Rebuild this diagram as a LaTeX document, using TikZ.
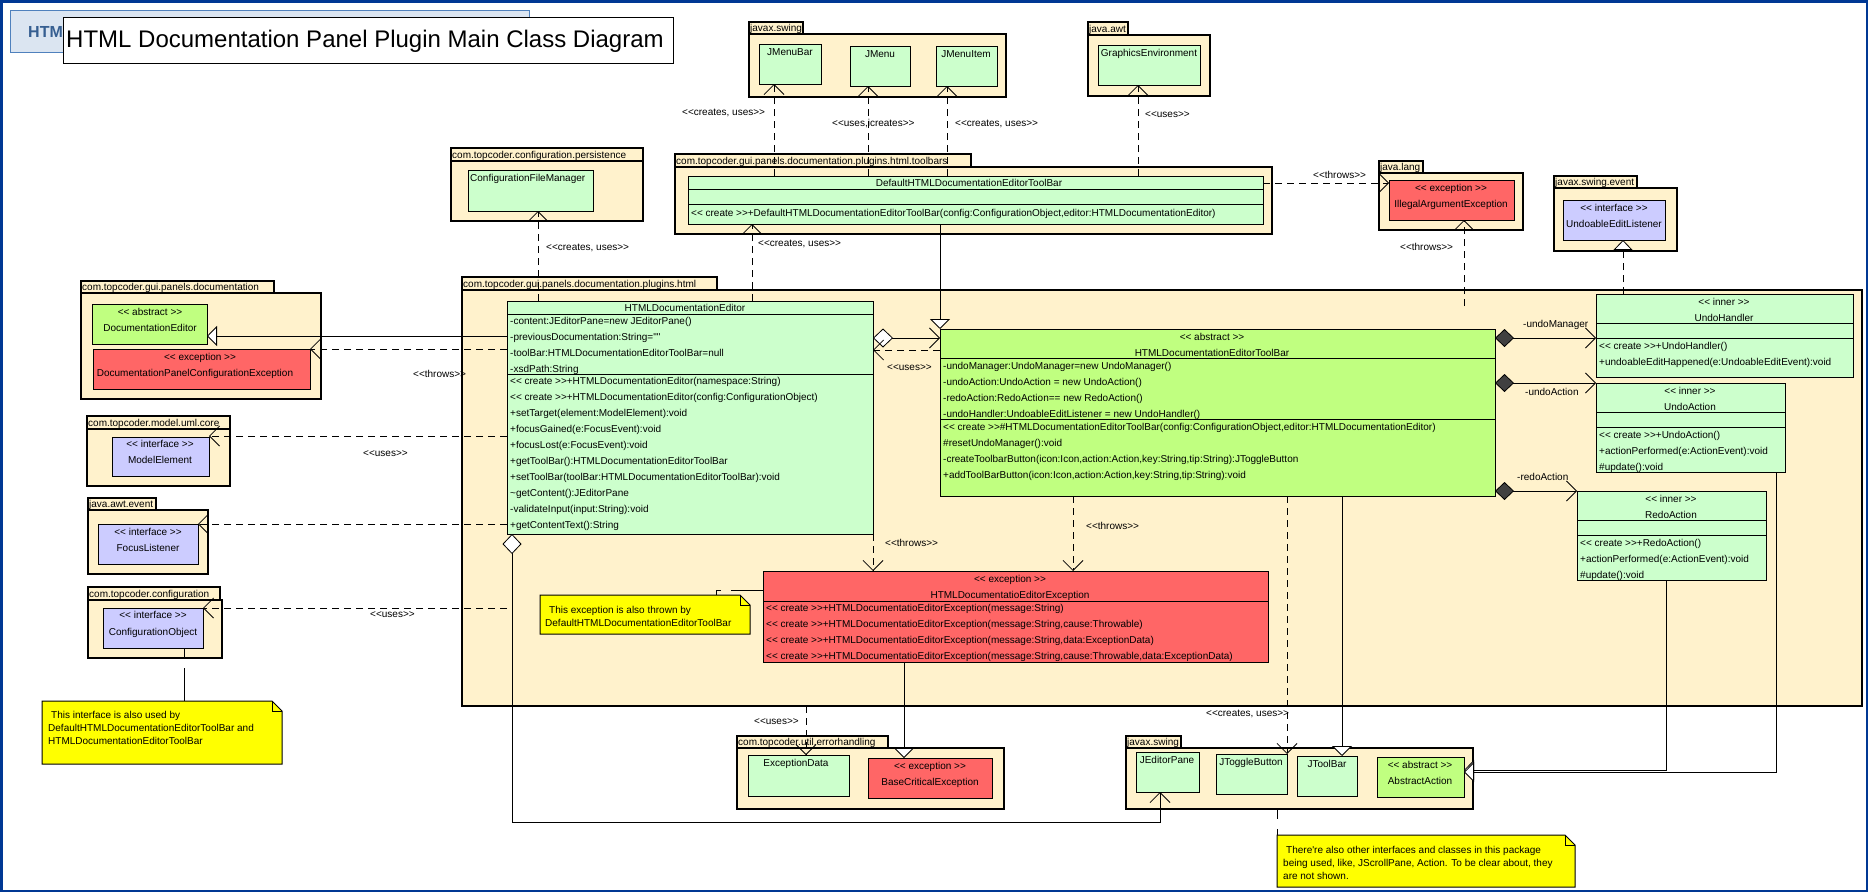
\documentclass[tikz,border=0pt]{standalone}
\usepackage{fontspec}
\setmainfont{Liberation Sans}[Ligatures=TeXOff]
\usetikzlibrary{arrows.meta,calc}

\newcommand{\rowfont}{\fontsize{10}{12}\selectfont}

\tikzset{
  pkgtab/.style={draw=black, fill=pkgfill, line width=1.2pt},
  pkgbody/.style={pkgtab, inner sep=0pt, outer sep=0pt},
  clsbox/.style={draw=black, line width=1pt, inner sep=0pt, outer sep=0pt},
  clsgreen/.style={clsbox, fill=fillgreen},
  clslime/.style={clsbox, fill=filllime},
  clsred/.style={clsbox, fill=fillred},
  clsblue/.style={clsbox, fill=fillblue},
  row/.style={anchor=base west, inner sep=0pt, yshift=-3.5pt, font=\rowfont},
  rowc/.style={anchor=base, inner sep=0pt, yshift=-3.5pt, font=\rowfont},
  clbl/.style={row},
  dep/.style={line width=0.8pt, dash pattern=on 7pt off 5pt, -{Straight Barb[length=10pt,width=20pt]}},
  real/.style={line width=0.8pt, dash pattern=on 7pt off 5pt, -{Triangle[length=10pt,width=19pt,fill=white]}},
  gen/.style={line width=0.8pt, -{Triangle[length=10pt,width=20pt,fill=white]}},
  assoc/.style={line width=0.8pt, {Diamond[length=19pt,width=18pt,fill=diamondgray]}-{Straight Barb[length=10pt,width=20pt]}},
  aggr/.style={line width=0.8pt, {Diamond[length=20pt,width=19pt,fill=white]}-{Straight Barb[length=10pt,width=20pt]}},
  notelink/.style={line width=0.8pt, dash pattern=on 10pt off 10pt on 33pt off 10pt}
}

% class box: name, style, x1, y1, x2, y2
\newcommand{\umlbox}[6]{%
  \node[#2, anchor=north west, minimum width={(#5-#3)*1pt}, minimum height={(#6-#4)*1pt}] (#1) at (#3,#4) {};}
% package: name, x1, tab top, tab right, body top, x2, bottom, label
\newcommand{\pkgbox}[8]{%
  \draw[pkgtab] (#2,#3) rectangle (#4,#5);
  \node[pkgbody, anchor=north west, minimum width={(#6-#2)*1pt}, minimum height={(#7-#5)*1pt}] (#1) at (#2,#5) {};
  \node[row] (#1-lbl) at (#2+1,{(#3+#5)/2}) {#8};}
% compartment line: class, y
\newcommand{\divline}[2]{\draw[line width=1pt] (#1.west |- 0,#2) -- (#1.east |- 0,#2);}
% note: name, x1, y1, x2, y2
\newcommand{\umlnote}[5]{%
  \node[anchor=north west, inner sep=0pt, outer sep=0pt, minimum width={(#4-#2)*1pt}, minimum height={(#5-#3)*1pt}] (#1) at (#2,#3) {};
  \filldraw[fill=noteyellow, draw=black, line width=1pt] (#1.north west) -- ($(#1.north east)+(-10,0)$) -- ($(#1.north east)+(0,10)$) -- (#1.south east) -- (#1.south west) -- cycle;
  \draw[line width=0.8pt] ($(#1.north east)+(-10,0)$) |- ($(#1.north east)+(0,10)$);}

\begin{document}
\begin{tikzpicture}[x=1pt, y=-1pt]
  % Define colors
  \definecolor{pkgfill}{RGB}{255,242,204}
  \definecolor{fillgreen}{RGB}{204,255,204}
  \definecolor{filllime}{RGB}{192,255,128}
  \definecolor{fillred}{RGB}{255,102,102}
  \definecolor{fillblue}{RGB}{204,204,255}
  \definecolor{noteyellow}{RGB}{255,255,0}
  \definecolor{frameblue}{RGB}{0,56,148}
  \definecolor{tabblue}{RGB}{219,229,241}
  \definecolor{tabline}{RGB}{79,129,189}
  \definecolor{tabtext}{RGB}{54,95,145}
  \definecolor{diamondgray}{RGB}{64,64,64}

  \useasboundingbox (0,0) rectangle (1868,892);

  % Draw the title
  \node[anchor=north west, fill=tabblue, draw=tabline, line width=1pt, minimum width=519pt, minimum height=42pt, inner sep=0pt] (tab) at (10,10) {};
  \node[anchor=base west, inner sep=0pt, text=tabtext, font=\fontsize{16}{19}\selectfont\bfseries] (tab-txt) at (28,37) {HTM};
  \node[anchor=north west, fill=white, draw=black, line width=1pt, minimum width=610pt, minimum height=46pt, inner sep=0pt] (title) at (63,17) {};
  \node[anchor=base west, inner sep=0pt, font=\fontsize{24}{28}\selectfont] (title-txt) at (66,47) {HTML Documentation Panel Plugin Main Class Diagram};

  % Draw the packages
  \pkgbox{pkpersist}{451}{148}{643}{161}{643}{221}{com.topcoder.configuration.persistence}
  \pkgbox{pkswing}{749}{22}{803}{34}{1006}{97}{javax.swing}
  \pkgbox{pkawt}{1088}{22}{1128}{35}{1210}{96}{java.awt}
  \pkgbox{pktoolbars}{675}{154}{971}{167}{1272}{234}{com.topcoder.gui.panels.documentation.plugins.html.toolbars}
  \pkgbox{pklang}{1379}{161}{1423}{173}{1523}{230}{java.lang}
  \pkgbox{pkevent}{1554}{176}{1637}{188}{1677}{251}{javax.swing.event}
  \pkgbox{pkdoc}{81}{281}{274}{293}{321}{399}{com.topcoder.gui.panels.documentation}
  \pkgbox{pkuml}{87}{416}{230}{429}{230}{486}{com.topcoder.model.uml.core}
  \pkgbox{pkawtevent}{88}{498}{156}{510}{208}{574}{java.awt.event}
  \pkgbox{pkconfig}{88}{587}{220}{600}{222}{658}{com.topcoder.configuration}
  \pkgbox{html}{462}{277}{717}{290}{1862}{706}{com.topcoder.gui.panels.documentation.plugins.html}
  \pkgbox{pkerr}{737}{736}{888}{748}{1004}{809}{com.topcoder.util.errorhandling}
  \pkgbox{swingb}{1126}{736}{1181}{748}{1473}{809}{javax.swing}

  % Draw the outside classes
  \umlbox{cfm}{clsgreen}{468}{170}{593}{211}
  \node[row] (cfm-name) at (470,178) {ConfigurationFileManager};
  \umlbox{jmb}{clsgreen}{759}{44}{821}{84}
  \node[rowc] (jmb-name) at (790,52) {JMenuBar};
  \umlbox{jm}{clsgreen}{850}{46}{910}{86}
  \node[rowc] (jm-name) at (880,54) {JMenu};
  \umlbox{jmi}{clsgreen}{936}{46}{997}{86}
  \node[rowc] (jmi-name) at (966,54) {JMenuItem};
  \umlbox{ge}{clsgreen}{1098}{45}{1200}{85}
  \node[rowc] (ge-name) at (1149,53) {GraphicsEnvironment};
  \umlbox{iae}{clsred}{1389}{180}{1514}{220}
  \node[rowc] (iae-st) at (1451,188) {<< exception >>};
  \node[rowc] (iae-name) at (1451,204) {IllegalArgumentException};
  \umlbox{uel}{clsblue}{1563}{200}{1665}{240}
  \node[rowc] (uel-st) at (1614,208) {<< interface >>};
  \node[rowc] (uel-name) at (1614,224) {UndoableEditListener};
  \umlbox{dedit}{clslime}{92}{304}{207}{344}
  \node[rowc] (dedit-st) at (150,312) {<< abstract >>};
  \node[rowc] (dedit-name) at (150,328) {DocumentationEditor};
  \umlbox{dpce}{clsred}{93}{349}{310}{389}
  \node[rowc] (dpce-st) at (200,357) {<< exception >>};
  \node[rowc] (dpce-name) at (195,373) {DocumentationPanelConfigurationException};
  \umlbox{me}{clsblue}{112}{437}{209}{476}
  \node[rowc] (me-st) at (160,444) {<< interface >>};
  \node[rowc] (me-name) at (160,460) {ModelElement};
  \umlbox{fl}{clsblue}{98}{524}{198}{564}
  \node[rowc] (fl-st) at (148,532) {<< interface >>};
  \node[rowc] (fl-name) at (148,548) {FocusListener};
  \umlbox{co}{clsblue}{103}{608}{203}{648}
  \node[rowc] (co-st) at (153,615) {<< interface >>};
  \node[rowc] (co-name) at (153,632) {ConfigurationObject};
  \umlbox{ed}{clsgreen}{748}{755}{849}{796}
  \node[rowc] (ed-name) at (796,763) {ExceptionData};
  \umlbox{bce}{clsred}{868}{758}{992}{798}
  \node[rowc] (bce-st) at (930,766) {<< exception >>};
  \node[rowc] (bce-name) at (930,782) {BaseCriticalException};
  \umlbox{jep}{clsgreen}{1136}{752}{1199}{792}
  \node[rowc] (jep-name) at (1167,760) {JEditorPane};
  \umlbox{jtb}{clsgreen}{1216}{754}{1287}{794}
  \node[rowc] (jtb-name) at (1251,762) {JToggleButton};
  \umlbox{jtbar}{clsgreen}{1297}{756}{1357}{796}
  \node[rowc] (jtbar-name) at (1327,764) {JToolBar};
  \umlbox{aa}{clslime}{1377}{757}{1464}{797}
  \node[rowc] (aa-st) at (1420,765) {<< abstract >>};
  \node[rowc] (aa-name) at (1420,781) {AbstractAction};

  % Draw the default toolbar
  \umlbox{dtb}{clsgreen}{688}{176}{1263}{224}
  \divline{dtb}{189}
  \divline{dtb}{204}
  \node[rowc] (dtb-name) at (969,183) {DefaultHTMLDocumentationEditorToolBar};
  \node[row] (dtb-m0) at (691,213) {<< create >>+DefaultHTMLDocumentationEditorToolBar(config:ConfigurationObject,editor:HTMLDocumentationEditor)};

  % Draw the editor
  \umlbox{hde}{clsgreen}{507}{301}{873}{534}
  \divline{hde}{314}
  \divline{hde}{374}
  \node[rowc] (hde-name) at (685,308) {HTMLDocumentationEditor};
  \foreach \t [count=\i from 0] in {{-content:JEditorPane=new JEditorPane()}, {-previousDocumentation:String=""},
      {-toolBar:HTMLDocumentationEditorToolBar=null}, {-xsdPath:String}}
    \node[row] (hde-a\i) at (510,321+16*\i) {\t};
  \foreach \t [count=\i from 0] in {{<< create >>+HTMLDocumentationEditor(namespace:String)},
      {<< create >>+HTMLDocumentationEditor(config:ConfigurationObject)}, {+setTarget(element:ModelElement):void},
      {+focusGained(e:FocusEvent):void}, {+focusLost(e:FocusEvent):void}, {+getToolBar():HTMLDocumentationEditorToolBar},
      {+setToolBar(toolBar:HTMLDocumentationEditorToolBar):void}, {\textasciitilde getContent():JEditorPane},
      {-validateInput(input:String):void}, {+getContentText():String}}
    \node[row] (hde-m\i) at (510,381+16*\i) {\t};

  % Draw the abstract toolbar
  \umlbox{atb}{clslime}{940}{329}{1495}{496}
  \divline{atb}{358}
  \divline{atb}{419}
  \node[rowc] (atb-st) at (1212,337) {<< abstract >>};
  \node[rowc] (atb-name) at (1212,353) {HTMLDocumentationEditorToolBar};
  \foreach \t [count=\i from 0] in {{-undoManager:UndoManager=new UndoManager()}, {-undoAction:UndoAction = new UndoAction()},
      {-redoAction:RedoAction== new RedoAction()}, {-undoHandler:UndoableEditListener = new UndoHandler()}}
    \node[row] (atb-a\i) at (943,366+16*\i) {\t};
  \foreach \t [count=\i from 0] in {{<< create >>\#HTMLDocumentationEditorToolBar(config:ConfigurationObject,editor:HTMLDocumentationEditor)},
      {\#resetUndoManager():void}, {-createToolbarButton(icon:Icon,action:Action,key:String,tip:String):JToggleButton},
      {+addToolBarButton(icon:Icon,action:Action,key:String,tip:String):void}}
    \node[row] (atb-m\i) at (943,427+16*\i) {\t};

  % Draw the inner classes
  \umlbox{uh}{clsgreen}{1596}{294}{1853}{377}
  \divline{uh}{323}
  \divline{uh}{338}
  \node[rowc] (uh-st) at (1724,302) {<< inner >>};
  \node[rowc] (uh-name) at (1724,318) {UndoHandler};
  \node[row] (uh-m0) at (1599,346) {<< create >>+UndoHandler()};
  \node[row] (uh-m1) at (1599,362) {+undoableEditHappened(e:UndoableEditEvent):void};
  \umlbox{ua}{clsgreen}{1596}{383}{1785}{472}
  \divline{ua}{412}
  \divline{ua}{427}
  \node[rowc] (ua-st) at (1690,391) {<< inner >>};
  \node[rowc] (ua-name) at (1690,407) {UndoAction};
  \foreach \t [count=\i from 0] in {{<< create >>+UndoAction()}, {+actionPerformed(e:ActionEvent):void}, {\#update():void}}
    \node[row] (ua-m\i) at (1599,435+16*\i) {\t};
  \umlbox{ra}{clsgreen}{1577}{491}{1766}{580}
  \divline{ra}{520}
  \divline{ra}{535}
  \node[rowc] (ra-st) at (1671,499) {<< inner >>};
  \node[rowc] (ra-name) at (1671,515) {RedoAction};
  \foreach \t [count=\i from 0] in {{<< create >>+RedoAction()}, {+actionPerformed(e:ActionEvent):void}, {\#update():void}}
    \node[row] (ra-m\i) at (1580,543+16*\i) {\t};

  % Draw the exception
  \umlbox{hee}{clsred}{763}{571}{1268}{662}
  \divline{hee}{601}
  \node[rowc] (hee-st) at (1010,579) {<< exception >>};
  \node[rowc] (hee-name) at (1010,595) {HTMLDocumentatioEditorException};
  \foreach \t [count=\i from 0] in {{(message:String)}, {(message:String,cause:Throwable)},
      {(message:String,data:ExceptionData)}, {(message:String,cause:Throwable,data:ExceptionData)}}
    \node[row] (hee-m\i) at (766,608+16*\i) {<< create >>+HTMLDocumentatioEditorException\t};

  % Draw the notes
  \umlnote{note1}{42}{701}{282}{764}
  \node[row] (note1-t0) at (51,715) {This interface is also used by};
  \node[row] (note1-t1) at (48,728) {DefaultHTMLDocumentationEditorToolBar and};
  \node[row] (note1-t2) at (48,741) {HTMLDocumentationEditorToolBar};
  \umlnote{note2}{540}{595}{750}{634}
  \node[row] (note2-t0) at (549,610) {This exception is also thrown by};
  \node[row] (note2-t1) at (545,623) {DefaultHTMLDocumentationEditorToolBar};
  \umlnote{note3}{1277}{835}{1575}{887}
  \node[row] (note3-t0) at (1286,850) {There're also other interfaces and classes in this package};
  \node[row] (note3-t1) at (1283,863) {being used, like, JScrollPane, Action. To be clear about, they};
  \node[row] (note3-t2) at (1283,876) {are not shown.};

  % Draw the connectors of the default toolbar
  \draw[dep] (dtb.north -| 774,0) -- (jmb.south -| 774,0);
  \draw[dep] (dtb.north -| 868,0) -- (jm.south -| 868,0);
  \draw[dep] (dtb.north -| 947,0) -- (jmi.south -| 947,0);
  \draw[dep] (dtb.north -| 1138,0) -- (ge.south -| 1138,0);
  \draw[dep] (dtb.east |- 0,183) -- (iae.west |- 0,183);
  \draw[gen] (dtb.south -| 940,0) -- (atb.north -| 940,0);

  % Draw the connectors of the editor
  \draw[dep] (hde.north -| 538,0) -- (cfm.south -| 538,0);
  \draw[dep] (hde.north -| 752,0) -- (dtb.south -| 752,0);
  \draw[gen] (hde.west |- 0,336) -- (dedit.east |- 0,336);
  \draw[dep] (hde.west |- 0,349) -- (dpce.east |- 0,349);
  \draw[dep] (hde.west |- 0,436) -- (me.east |- 0,436);
  \draw[dep] (hde.west |- 0,524) -- (fl.east |- 0,524);
  \draw[dep] ($(hde.south -| 512,0)+(0,19)$) -- (512,608) -- (co.east |- 0,608);
  \draw[aggr] (hde.east |- 0,338) -- (atb.west |- 0,338);
  \draw[dep] (atb.west |- 0,350) -- (hde.east |- 0,350);
  \draw[dep] (hde.south -| 873,0) -- (hee.north -| 873,0);
  \draw[aggr] (hde.south -| 512,0) -- (512,822) -| (jep.south -| 1160,0);

  % Draw the connectors of the abstract toolbar
  \draw[dep] (atb.south -| 1073,0) -- (hee.north -| 1073,0);
  \draw[dep] (atb.south -| 1287,0) -- (jtb.north -| 1287,0);
  \draw[gen] (atb.south -| 1342,0) -- (jtbar.north -| 1342,0);
  \draw[assoc] (atb.east |- 0,338) -- (uh.west |- 0,338);
  \draw[assoc] (atb.east |- 0,383) -- (ua.west |- 0,383);
  \draw[assoc] (atb.east |- 0,491) -- (ra.west |- 0,491);

  % Draw the remaining connectors
  \draw[real] (uh.north -| 1623,0) -- (uel.south -| 1623,0);
  \coordinate (thr) at (1464,306);
  \draw[dep] (thr) -- (iae.south -| thr);
  \draw[gen] (hee.south -| 904,0) -- (bce.north -| 904,0);
  \draw[dep] (html.south -| 806,0) -- (ed.north -| 806,0);
  \draw[gen] (ra.south -| 1666,0) |- (aa.east |- 0,770);
  \draw[gen] (ua.south -| 1776,0) |- (aa.east |- 0,772);
  \draw[notelink] (co.south -| 184,0) -- (note1.north -| 184,0);
  \draw[notelink] (note2.north -| 716,0) |- (hee.west |- 0,590);
  \draw[notelink] (swingb.south -| 1277,0) -- (note3.north west);

  % Label the connectors
  \node[clbl] (l-jmb) at (682,112) {<<creates, uses>>};
  \node[clbl] (l-jm) at (832,123) {<<uses,icreates>>};
  \node[clbl] (l-jmi) at (955,123) {<<creates, uses>>};
  \node[clbl] (l-ge) at (1145,114) {<<uses>>};
  \node[clbl] (l-iae) at (1313,175) {<<throws>>};
  \node[clbl] (l-cfm) at (546,247) {<<creates, uses>>};
  \node[clbl] (l-dtb) at (758,243) {<<creates, uses>>};
  \node[clbl] (l-thr) at (1400,247) {<<throws>>};
  \node[clbl] (l-dpce) at (413,374) {<<throws>>};
  \node[clbl] (l-me) at (363,453) {<<uses>>};
  \node[clbl] (l-co) at (370,614) {<<uses>>};
  \node[clbl] (l-atb) at (887,367) {<<uses>>};
  \node[clbl] (l-hee1) at (885,543) {<<throws>>};
  \node[clbl] (l-hee2) at (1086,526) {<<throws>>};
  \node[clbl] (l-jtb) at (1206,713) {<<creates, uses>>};
  \node[clbl] (l-ed) at (754,721) {<<uses>>};
  \node[clbl] (l-um) at (1523,324) {-undoManager};
  \node[clbl] (l-ua) at (1525,392) {-undoAction};
  \node[clbl] (l-ra) at (1517,477) {-redoAction};

  % Draw the frame
  \draw[frameblue, line width=2.5pt] (1.25,1.25) rectangle (1866.75,890.75);
\end{tikzpicture}
\end{document}
